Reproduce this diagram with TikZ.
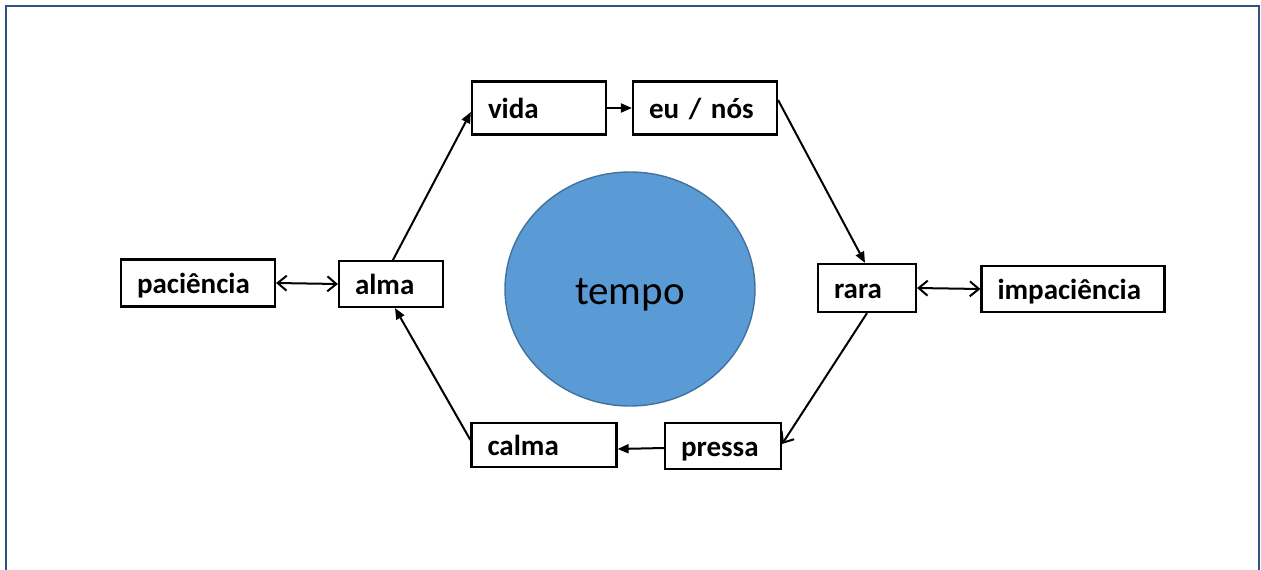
\documentclass[tikz,border=0pt]{standalone}
\usepackage{fontspec}
\setmainfont{Carlito}
\usetikzlibrary{arrows.meta,shapes.geometric}
\definecolor{framecol}{HTML}{2F5283}
\definecolor{circfill}{HTML}{5B9BD5}
\definecolor{circline}{HTML}{41719C}
\begin{document}
\begin{tikzpicture}[x=1pt,y=-1pt,
  box/.style={draw=black, line width=2.2pt, rectangle, inner xsep=16pt, inner ysep=0pt,
    text height=23pt, text depth=2pt,
    align=left, font=\fontsize{29}{33}\selectfont\bfseries},
  fwd/.style={line width=2pt, -{Triangle[length=11pt,width=9pt]}},
  open/.style={line width=2pt, -{Straight Barb[length=9pt,width=15pt]}},
  both/.style={line width=2pt, {Straight Barb[length=9pt,width=15pt]}-{Straight Barb[length=9pt,width=15pt]}}]
\useasboundingbox (0,0) rectangle (1261,570);
\clip (0,0) rectangle (1261,570);
\draw[framecol, line width=2.8pt] (6,580) -- (6,6) -- (1259,6) -- (1259,580);
\node[ellipse, draw=circline, line width=1.4pt, fill=circfill, minimum width=250pt, minimum height=234pt, inner sep=0pt,
  text height=32pt, text depth=2pt,
  font=\fontsize{41}{48}\selectfont] (tempo) at (630,289) {tempo};
\node[box, text width=122pt, minimum height=47pt] (pac) at (198,283) {paciência};
\node[box, text width=72pt, minimum height=46pt] (alma) at (391,284) {alma};
\node[box, text width=102pt, minimum height=53pt] (vida) at (539,108) {vida};
\node[box, text width=112pt, minimum height=53pt] (eu) at (705,108) {eu / nós};
\node[box, text width=66pt, minimum height=48pt] (rara) at (867,288) {rara};
\node[box, text width=151pt, minimum height=46pt] (imp) at (1073,289) {impaciência};
\node[box, text width=113pt, minimum height=44pt] (calma) at (544,445) {calma};
\node[box, text width=84pt, minimum height=46pt] (pressa) at (723,446) {pressa};
\draw[both] (pac.east) -- (alma.west);
\draw[both] (rara.east) -- (imp.west);
\draw[fwd] ([xshift=2pt]alma.north) -- ([yshift=-4pt]vida.west);
\draw[fwd] (vida.east) -- (eu.east -| eu.west);
\draw[fwd] ([yshift=8pt]eu.east) -- ([xshift=-2pt]rara.north);
\draw[open] (rara.south) -- ([yshift=2pt]pressa.east);
\draw[fwd] ([yshift=-2pt]pressa.west) -- ([yshift=-4pt]calma.east);
\draw[fwd] ([yshift=5pt]calma.west) -- ([xshift=4pt]alma.south);
\end{tikzpicture}
\end{document}
